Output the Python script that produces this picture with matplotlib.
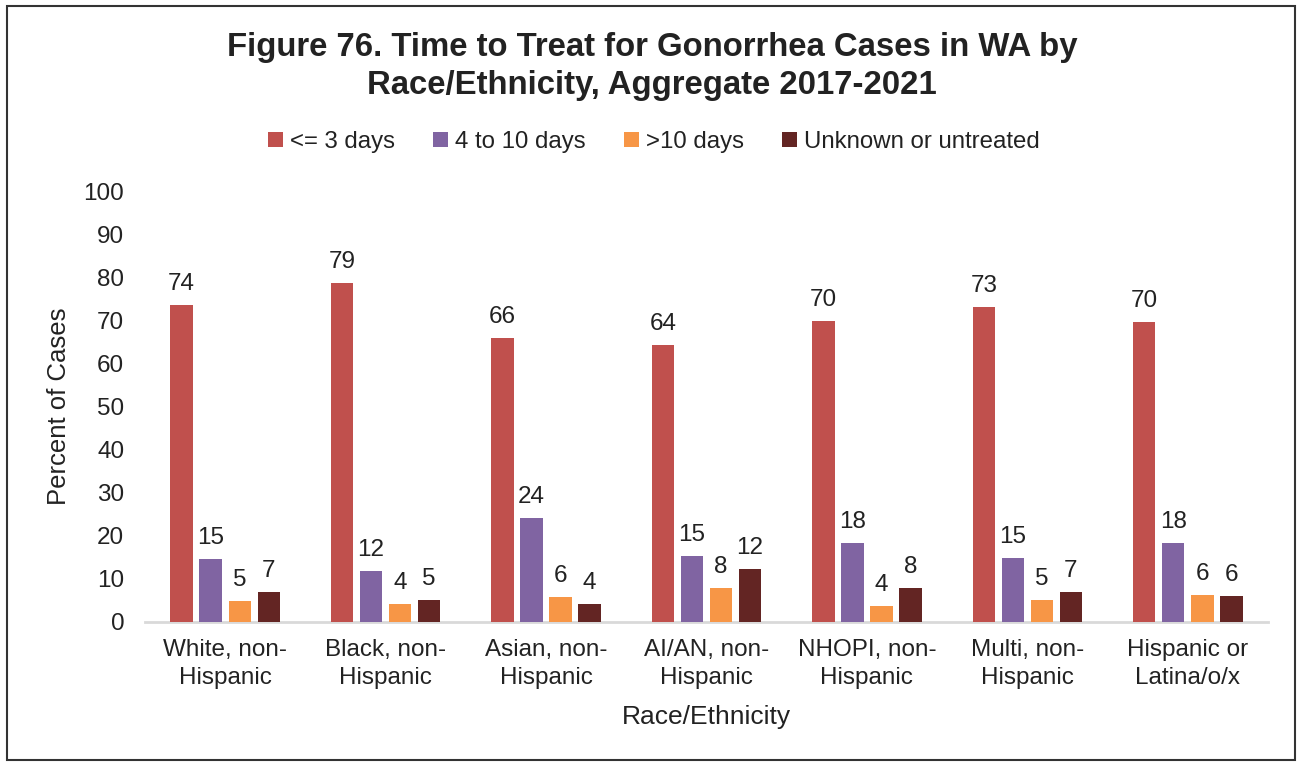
import matplotlib
matplotlib.use("Agg")
import matplotlib.pyplot as plt
import numpy as np
from matplotlib.patches import Rectangle

plt.rcParams['font.family'] = ['Liberation Sans', 'DejaVu Sans']

categories = ["White, non-\nHispanic", "Black, non-\nHispanic", "Asian, non-\nHispanic",
              "AI/AN, non-\nHispanic", "NHOPI, non-\nHispanic", "Multi, non-\nHispanic",
              "Hispanic or\nLatina/o/x"]
series_names = ["<= 3 days", "4 to 10 days", ">10 days", "Unknown or untreated"]
le3 = [73.5, 78.7, 65.9, 64.3, 69.8, 73.1, 69.6]
d4to10 = [14.6, 11.8, 24.1, 15.3, 18.3, 14.8, 18.3]
gt10 = [4.9, 4.2, 5.8, 7.9, 3.7, 5.1, 6.3]
unknown = [7.0, 5.1, 4.2, 12.3, 7.9, 7.0, 6.0]
colors = ["#C0504D", "#8064A2", "#F79646", "#632523"]
TXT = "#222222"

fig = plt.figure(figsize=(12.99, 7.62), dpi=100)
ax = fig.add_axes([145/1299, (762-622)/762, (1268-145)/1299, (622-191)/762])

x = np.arange(len(categories))
width = 0.14
stride = 0.181
for i, (vals, c, name) in enumerate(zip([le3, d4to10, gt10, unknown], colors, series_names)):
    pos = x + (i - 1.5) * stride
    ax.bar(pos, vals, width=width, color=c, label=name, zorder=3)
    for p, v in zip(pos, vals):
        ax.text(p, v + 2.3, f"{round(v):d}", ha="center", va="bottom", fontsize=17.5, color=TXT)

ax.set_xlim(-0.5, len(categories) - 0.5)
ax.set_ylim(0, 100)
ax.set_yticks(range(0, 101, 10))
ax.set_xticks(x)
ax.set_xticklabels(categories, fontsize=17.5, color=TXT, linespacing=1.35)
ax.tick_params(axis="y", labelsize=17.5, colors=TXT, length=0, pad=15)
ax.tick_params(axis="x", length=0, pad=12)
for s in ["top", "right", "left"]:
    ax.spines[s].set_visible(False)
ax.spines["bottom"].set_color("#D9D9D9")
ax.spines["bottom"].set_linewidth(2)
ax.set_ylabel("Percent of Cases", fontsize=18.5, color=TXT, labelpad=9)
ax.set_xlabel("Race/Ethnicity", fontsize=19, color=TXT, labelpad=12)

fig.text(652/1299, 1 - 66.5/762, "Figure 76. Time to Treat for Gonorrhea Cases in WA by\nRace/Ethnicity, Aggregate 2017-2021",
         ha="center", va="center", fontsize=23.7, fontweight="bold", color=TXT, linespacing=1.3)

leg = ax.legend(loc="center", bbox_to_anchor=(654/1299, 1 - 142/762), bbox_transform=fig.transFigure,
                ncol=4, frameon=False, fontsize=17.3, handlelength=0.6, handleheight=0.6,
                handletextpad=0.3, columnspacing=1.6)
for t in leg.get_texts():
    t.set_color(TXT)

fig.patches.append(Rectangle((7/1299, 1 - 760/762), (1295-7)/1299, (760-6)/762,
                             transform=fig.transFigure, fill=False, edgecolor="#333333", linewidth=1.5))

fig.savefig("out.png", dpi=100)
